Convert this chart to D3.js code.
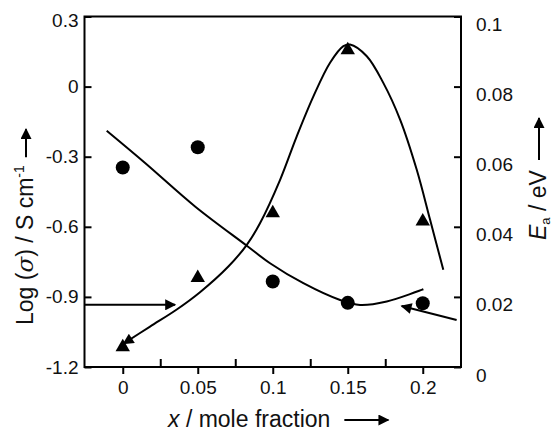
<!DOCTYPE html>
<html>
<head>
    <title></title>
    <script src="https://cdn.jsdelivr.net/npm/d3@7"></script>
    <style>
        body { margin: 0; background: #ffffff; }
        text { font-family: "Liberation Sans", Arial, sans-serif; fill: #111; }
        .tick text { font-size: 19px; }
        .title { font-size: 23px; }
    </style>
</head>
<body>
<script type="text/javascript">

    // mole fraction x of the samples
    var moleFrac = [0, 0.05, 0.1, 0.15, 0.2];
    // triangles: Log(sigma), left axis
    var logSigma = [-1.115, -0.818, -0.541, 0.156, -0.577];
    // circles: Ea / eV, right axis
    var activationE = [0.0569, 0.0627, 0.0244, 0.0183, 0.0182];

    // drawn fit curves
    var sigmaFitX = [0.0005, 0.0182, 0.036, 0.0515, 0.0704, 0.0827, 0.0915, 0.1049, 0.116, 0.1271,
                     0.1382, 0.1471, 0.1515, 0.1627, 0.1737, 0.1849, 0.196, 0.2049, 0.2137];
    var sigmaFitY = [-1.100, -1.027, -0.954, -0.880, -0.770, -0.677, -0.585, -0.399, -0.213, -0.042,
                     0.102, 0.173, 0.180, 0.130, 0.016, -0.141, -0.356, -0.570, -0.784];
    var eaFitX = [-0.0107, 0.0149, 0.0482, 0.0827, 0.0982, 0.1204, 0.1449, 0.1582, 0.176, 0.2004];
    var eaFitY = [0.0674, 0.0582, 0.0458, 0.0346, 0.0296, 0.0239, 0.0191, 0.0177, 0.0187, 0.0222];

    // pointer arrows
    var leftArrowX = [-0.0255, 0.0349], leftArrowY = [-0.934, -0.934];
    var rightArrowX = [0.2226, 0.1859], rightArrowY = [0.0134, 0.0174];

    var xTicks = [0, 0.05, 0.1, 0.15, 0.2],
        xTickLabels = ["0", "0.05", "0.1", "0.15", "0.2"],
        xMinorTicks = [0.025, 0.075, 0.125, 0.175],
        leftTicks = [0.3, 0, -0.3, -0.6, -0.9, -1.2],
        leftTickLabels = ["0.3", "0", "-0.3", "-0.6", "-0.9", "-1.2"],
        rightTicks = [0.1, 0.08, 0.06, 0.04, 0.02, 0],
        rightTickLabels = ["0.1", "0.08", "0.06", "0.04", "0.02", "0"];

    var w = 552, h = 433,
        pLeft = 84.5, pRight = 461, pTop = 16.5, pBottom = 367;

    var svg = d3.select("body").append("svg")
            .attr("width", w)
            .attr("height", h);

    var defs = svg.append("defs");
    defs.append("marker")
            .attr("id", "head")
            .attr("viewBox", "0 0 10 10")
            .attr("refX", 9).attr("refY", 5)
            .attr("markerWidth", 13).attr("markerHeight", 11)
            .attr("markerUnits", "userSpaceOnUse")
            .attr("orient", "auto-start-reverse")
            .append("path").attr("d", "M0,0L10,5L0,10z").attr("fill", "#000");

    var x = d3.scaleLinear().domain([-0.0255, 0.2255]).range([pLeft, pRight]);
    var yL = d3.scaleLinear().domain([-1.2, 0.3]).range([pBottom, pTop]);
    var yR = d3.scaleLinear().domain([0, 0.1]).range([pBottom, pTop]);

    // axes
    svg.append("g")
            .attr("transform", "translate(0," + pBottom + ")")
            .call(d3.axisBottom(x).tickValues(xTicks).tickSize(7).tickPadding(7)
                .tickFormat(function (d, i) { return xTickLabels[i]; }))
            .call(function (g) { g.select(".domain").remove(); });
    svg.append("g")
            .attr("transform", "translate(0," + pBottom + ")")
            .call(d3.axisBottom(x).tickValues(xMinorTicks).tickSize(-8).tickFormat(""))
            .call(function (g) { g.select(".domain").remove(); });
    svg.append("g")
            .attr("transform", "translate(" + pLeft + ",0)")
            .call(d3.axisLeft(yL).tickValues(leftTicks).tickSize(-7).tickPadding(6)
                .tickFormat(function (d, i) { return leftTickLabels[i]; }))
            .call(function (g) {
                g.select(".domain").remove();
                g.selectAll("text").filter(function (d) { return d === 0.3; }).attr("y", 4);
            });
    svg.append("g")
            .attr("transform", "translate(" + pRight + ",0)")
            .call(d3.axisRight(yR).tickValues(rightTicks).tickSize(-7).tickPadding(15)
                .tickFormat(function (d, i) { return rightTickLabels[i]; }))
            .call(function (g) {
                g.select(".domain").remove();
                g.selectAll("text").attr("y", 8);
            });
    svg.selectAll(".tick line").attr("stroke", "#000").attr("stroke-width", 2);
    svg.selectAll(".tick text").attr("fill", "#111");

    svg.append("rect")
            .attr("x", pLeft).attr("y", pTop)
            .attr("width", pRight - pLeft).attr("height", pBottom - pTop)
            .attr("fill", "none").attr("stroke", "#000").attr("stroke-width", 2);

    // fit curves
    var sigmaLine = d3.line()
            .x(function (d) { return x(d[0]); })
            .y(function (d) { return yL(d[1]); })
            .curve(d3.curveCatmullRom);
    var eaLine = d3.line()
            .x(function (d) { return x(d[0]); })
            .y(function (d) { return yR(d[1]); })
            .curve(d3.curveCatmullRom);

    svg.append("path")
            .datum(d3.zip(sigmaFitX, sigmaFitY))
            .attr("d", sigmaLine)
            .attr("fill", "none").attr("stroke", "#000").attr("stroke-width", 2)
            .attr("marker-start", "url(#head)");
    svg.append("path")
            .datum(d3.zip(eaFitX, eaFitY))
            .attr("d", eaLine)
            .attr("fill", "none").attr("stroke", "#000").attr("stroke-width", 2);

    // pointer arrows
    svg.append("path")
            .datum(d3.zip(leftArrowX, leftArrowY))
            .attr("d", d3.line().x(function (d) { return x(d[0]); }).y(function (d) { return yL(d[1]); }))
            .attr("stroke", "#000").attr("stroke-width", 2)
            .attr("marker-end", "url(#head)");
    svg.append("path")
            .datum(d3.zip(rightArrowX, rightArrowY))
            .attr("d", d3.line().x(function (d) { return x(d[0]); }).y(function (d) { return yR(d[1]); }))
            .attr("stroke", "#000").attr("stroke-width", 2)
            .attr("marker-end", "url(#head)");

    // markers
    svg.selectAll("circle.ea")
            .data(d3.zip(moleFrac, activationE))
            .enter().append("circle")
            .attr("class", "ea")
            .attr("cx", function (d) { return x(d[0]); })
            .attr("cy", function (d) { return yR(d[1]); })
            .attr("r", 7)
            .attr("fill", "#000");
    svg.selectAll("path.sig")
            .data(d3.zip(moleFrac, logSigma))
            .enter().append("path")
            .attr("class", "sig")
            .attr("d", d3.symbol(d3.symbolTriangle, 90))
            .attr("transform", function (d) { return "translate(" + x(d[0]) + "," + yL(d[1]) + ")"; })
            .attr("fill", "#000");

    // axis titles with arrows
    function titleArrow(g, text, gap, len) {
        var end = text.node().getComputedTextLength();
        var x0 = +text.attr("x") + end + gap;
        g.append("line")
                .attr("x1", x0).attr("x2", x0 + len)
                .attr("y1", -7).attr("y2", -7)
                .attr("stroke", "#000").attr("stroke-width", 2)
                .attr("marker-end", "url(#head)");
    }

    var gx = svg.append("g").attr("transform", "translate(168,427)");
    var tx = gx.append("text").attr("class", "title").attr("x", 0);
    tx.append("tspan").attr("font-style", "italic").text("x");
    tx.append("tspan").text(" / mole fraction");
    titleArrow(gx, tx, 14, 44);

    var gl = svg.append("g").attr("transform", "translate(33,325) rotate(-90)");
    var tl = gl.append("text").attr("class", "title").attr("x", 0);
    tl.append("tspan").text("Log (");
    tl.append("tspan").attr("font-style", "italic").attr("font-family", "'DejaVu Serif', serif").text("σ");
    tl.append("tspan").text(") / S cm");
    tl.append("tspan").attr("font-size", "14px").attr("dy", -9).text("-1");
    titleArrow(gl, tl, 8, 28);

    var gr = svg.append("g").attr("transform", "translate(546,240) rotate(-90)");
    var tr = gr.append("text").attr("class", "title").attr("x", 0);
    tr.append("tspan").attr("font-style", "italic").text("E");
    tr.append("tspan").attr("font-size", "13px").attr("dy", 4).text("a");
    tr.append("tspan").attr("dy", -4).text(" / eV");
    titleArrow(gr, tr, 10, 42);

</script>
</body>
</html>
